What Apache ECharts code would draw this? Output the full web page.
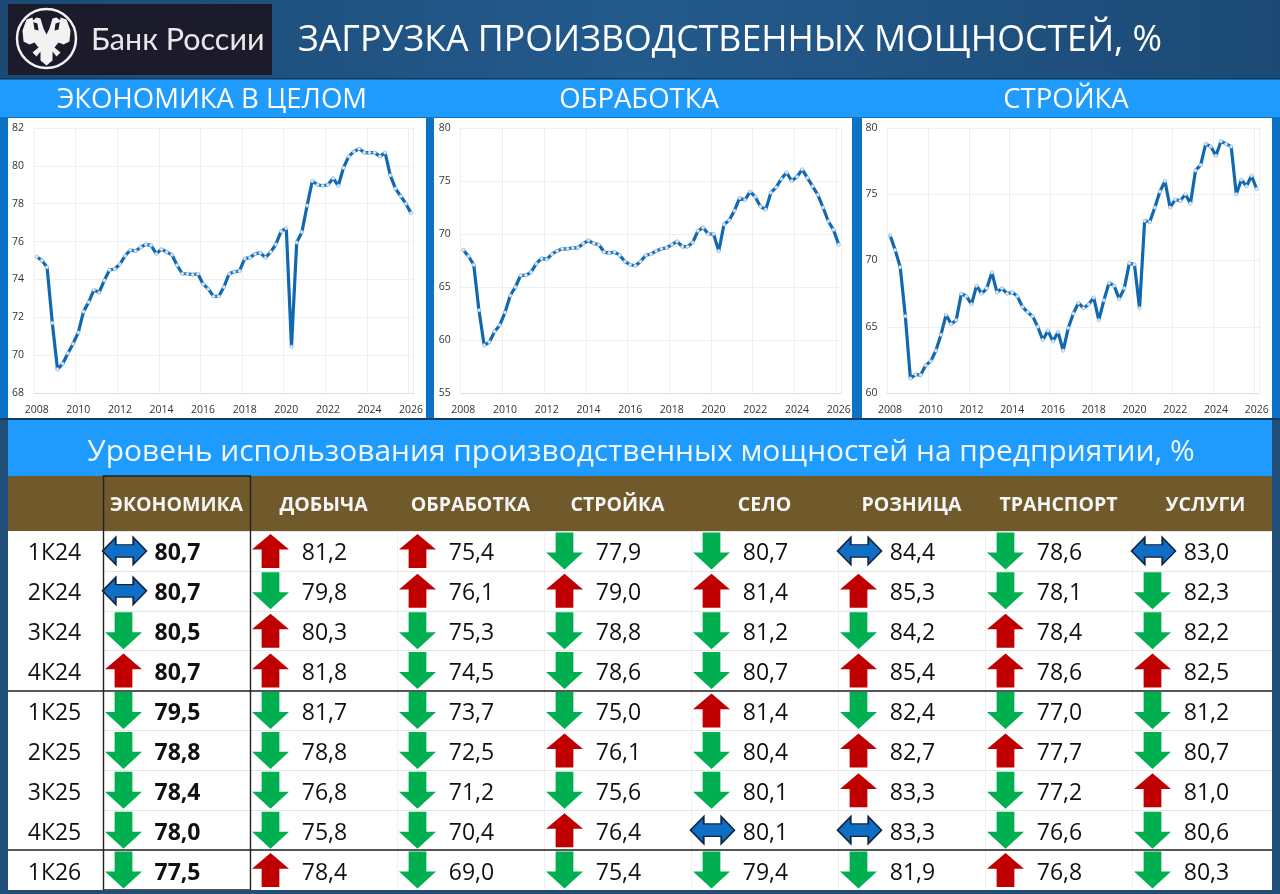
<!DOCTYPE html>
<html><head><meta charset="utf-8">
<style>html,body{margin:0;padding:0;background:#1f4e79}#c{width:1280px;height:894px}</style>
<script src="https://cdn.jsdelivr.net/npm/echarts@6/dist/echarts.min.js"></script></head>
<body><div id="c"></div>
<script>
const yearTicks=[];
for(let y=2008;y<=2026;y++){for(let q=0;q<4;q++){if(y<2026||q===0)yearTicks.push(String(y));}}
const economyLine=[75.2,75.0,74.65,71.7,69.25,69.55,70.1,70.6,71.2,72.3,72.8,73.45,73.3,73.95,74.5,74.55,74.8,75.25,75.55,75.5,75.7,75.85,75.8,75.35,75.6,75.45,75.3,74.75,74.3,74.3,74.25,74.3,73.75,73.5,73.1,73.1,73.6,74.3,74.4,74.45,75.1,75.15,75.35,75.4,75.15,75.45,75.85,76.55,76.7,70.45,75.95,76.5,77.9,79.2,79.0,78.95,79.0,79.35,78.95,79.9,80.5,80.75,80.9,80.7,80.7,80.7,80.5,80.7,79.5,78.8,78.4,78.0,77.5];
const manufacturingLine=[68.5,67.9,67.1,62.8,59.5,59.8,60.8,61.4,62.6,64.2,65.0,66.1,66.1,66.4,67.2,67.7,67.6,68.1,68.4,68.6,68.6,68.7,68.7,69.1,69.4,69.1,69.0,68.3,68.2,68.3,68.0,67.4,67.1,67.0,67.4,68.0,68.1,68.4,68.6,68.7,69.0,69.3,68.8,68.8,69.2,70.3,70.6,70.0,70.0,68.4,70.9,71.3,72.2,73.4,73.2,74.0,73.5,72.6,72.3,73.9,74.4,75.2,75.8,75.0,75.4,76.1,75.3,74.5,73.7,72.5,71.2,70.4,69.0];
const constructionLine=[71.9,70.8,69.5,65.8,61.1,61.4,61.35,62.1,62.4,63.2,64.4,65.9,65.2,65.5,67.5,67.3,66.7,68.1,67.5,67.9,69.1,67.6,67.9,67.5,67.6,67.3,66.5,66.1,65.8,65.0,64.0,64.7,63.9,64.6,63.2,64.9,66.0,66.8,66.4,66.7,67.2,65.5,67.0,68.3,68.1,67.1,67.9,69.8,69.7,66.4,73.0,72.9,74.0,75.2,76.0,74.0,74.6,74.5,75.0,74.3,76.8,77.2,78.8,78.6,77.9,79.0,78.8,78.6,75.0,76.1,75.6,76.4,75.4];

const quarters=['1К24','2К24','3К24','4К24','1К25','2К25','3К25','4К25','1К26'];
const sectors=['ЭКОНОМИКА','ДОБЫЧА','ОБРАБОТКА','СТРОЙКА','СЕЛО','РОЗНИЦА','ТРАНСПОРТ','УСЛУГИ'];
const tableValues=[
 [80.7,80.7,80.5,80.7,79.5,78.8,78.4,78.0,77.5],
 [81.2,79.8,80.3,81.8,81.7,78.8,76.8,75.8,78.4],
 [75.4,76.1,75.3,74.5,73.7,72.5,71.2,70.4,69.0],
 [77.9,79.0,78.8,78.6,75.0,76.1,75.6,76.4,75.4],
 [80.7,81.4,81.2,80.7,81.4,80.4,80.1,80.1,79.4],
 [84.4,85.3,84.2,85.4,82.4,82.7,83.3,83.3,81.9],
 [78.6,78.1,78.4,78.6,77.0,77.7,77.2,76.6,76.8],
 [83.0,82.3,82.2,82.5,81.2,80.7,81.0,80.6,80.3]];
const tableDirections=['ssduddddd','uduuddddu','uuddddddd','dudddudud','dudduddsd','sududuusd','dduududdu','sddudduDd'.toLowerCase()];

const FONT='"Open Sans","Noto Sans",sans-serif';
const UP='path://M0,46 L50,0 L100,46 L74,46 L74,100 L26,100 L26,46 Z';
const DOWN='path://M26,0 L74,0 L74,54 L100,54 L50,100 L0,54 L26,54 Z';
const BOTH='path://M0,50 L30,0 L30,27 L70,27 L70,0 L100,50 L70,100 L70,73 L30,73 L30,100 Z';
const arrowStyle={
 u:{symbol:UP,symbolSize:[37,34],itemStyle:{color:'#C00000',borderWidth:0,opacity:1}},
 d:{symbol:DOWN,symbolSize:[37,37],itemStyle:{color:'#00B050',borderWidth:0,opacity:1}},
 s:{symbol:BOTH,symbolSize:[44,27],symbolOffset:[-52,0],itemStyle:{color:'#0F6FC6',borderColor:'#10253f',borderWidth:1.5,opacity:1}}
};

function lineSet(idx,left,right,min,max,interval,data){
 return {
  grid:{left,right:1280-right,top:128,bottom:894-393,containLabel:false},
  xAxis:{type:'category',gridIndex:idx,data:yearTicks,boundaryGap:true,
   axisLine:{lineStyle:{color:'#dedede',width:1}},axisTick:{show:false},
   axisLabel:{interval:7,color:'#333',fontSize:10.5,fontFamily:FONT,margin:12,showMaxLabel:true},
   splitLine:{show:true,interval:7,lineStyle:{color:'#efefef',width:1}}},
  yAxis:{type:'value',gridIndex:idx,min,max,interval,
   axisLine:{show:true,lineStyle:{color:'#efefef'}},axisTick:{show:false},
   axisLabel:{color:'#333',fontSize:10.5,fontFamily:FONT,margin:10},
   splitLine:{show:true,lineStyle:{color:'#efefef',width:1}}},
  series:{type:'line',xAxisIndex:idx,yAxisIndex:idx,data,smooth:false,showSymbol:true,showAllSymbol:true,
   symbol:'circle',symbolSize:3.5,lineStyle:{color:'#1068B0',width:3.2},
   itemStyle:{color:'#dce9f6',borderColor:'#8fb8dc',borderWidth:0.6},animation:false,silent:true}
 };
}
const sets=[lineSet(0,34.1,413.7,68,82,2,economyLine),
 lineSet(1,460.7,841.3,55,80,5,manufacturingLine),
 lineSet(2,887.5,1259.2,60,80,5,constructionLine)];

const arrowData=[],valueData=[],quarterData=[];
sectors.forEach((s,c)=>quarters.forEach((q,r)=>{
 const st=arrowStyle[tableDirections[c][r]];
 arrowData.push(Object.assign({value:[s,q]},st));
 valueData.push({value:[s,q],label:{show:true,position:'inside',offset:[1,3],
  formatter:tableValues[c][r].toFixed(1).replace('.',','),
  fontWeight:c===0?'bold':'normal',fontSize:23,fontFamily:FONT,color:'#111'}});
}));
quarters.forEach(q=>quarterData.push({value:[sectors[0],q],label:{show:true,position:'inside',offset:[-122,3],
  formatter:q,fontSize:23,fontFamily:FONT,color:'#111'}}));

function rect(x,y,w,h,fill,z){return {type:'rect',shape:{x,y,width:w,height:h},style:{fill},z:z===undefined?-10:z,silent:true};}
function text(t,x,y,size,color,align,extra){return {type:'text',x,y,z:20,silent:true,style:Object.assign({text:t,fontSize:size,fontFamily:FONT,fill:color,align:align||'center',verticalAlign:'middle'},extra||{})};}
function line(x1,y,x2,c,w){return {type:'line',shape:{x1,y1:y,x2,y2:y},style:{stroke:c,lineWidth:w},z:15,silent:true};}

const half=[[0,-4],[3,-10],[6,-20],[10,-21],[15,-17],[9,-15],[8,-8],[12,-9],[14,-21],[20,-19],[24,-8],[23,3],[17,6],[12,4],[8,9],[14,14],[10,18],[6,13],[6,22],[0,27]];
const cx=46.5,cy=38.5;
const eaglePts=half.map(p=>[cx+p[0],cy+p[1]]).concat(half.slice().reverse().map(p=>[cx-p[0],cy+p[1]]));

const graphic=[
 {type:'rect',shape:{x:0,y:0,width:1280,height:78},z:-10,silent:true,style:{fill:{type:'linear',x:0,y:0,x2:1,y2:0,colorStops:[{offset:0,color:'#1c4a75'},{offset:0.5,color:'#235a8c'},{offset:1,color:'#1c4a75'}]}}},
 rect(8,4,264,71,'#1b1b2b',-5),
 {type:'circle',shape:{cx,cy,r:29.5},style:{fill:'none',stroke:'#f2f2f2',lineWidth:2.5},z:-4,silent:true},
 {type:'polygon',shape:{points:eaglePts},style:{fill:'#f2f2f2'},z:-4,silent:true},
 text('Банк России',91,40,30.5,'#e8e8e8','left',{fontFamily:'Lato,"Open Sans",sans-serif'}),
 text('ЗАГРУЗКА ПРОИЗВОДСТВЕННЫХ МОЩНОСТЕЙ, %',298,41,35.7,'#ffffff','left'),
 rect(0,78,1280,1.5,'#123a5e',-8),
 rect(0,79,1280,40,'#1E9BFD',-9),
 text('ЭКОНОМИКА В ЦЕЛОМ',212,100,27.5,'#ffffff'),
 text('ОБРАБОТКА',639,100,27.5,'#ffffff'),
 text('СТРОЙКА',1066,100,27.5,'#ffffff'),
 rect(0,117,1280,303,'#0B72C5',-9),
 rect(8,118,418,300,'#ffffff',-8),
 rect(434,118,418,300,'#ffffff',-8),
 rect(862,118,410,300,'#ffffff',-8),
 rect(8,420,1272,56,'#1E9BFD',-9),
 rect(0,418,1280,2,'#123a5e',-8),
 text('Уровень использования производственных мощностей на предприятии, %',641,452,29.9,'#f0f8ff'),
 rect(8,476,1264,55,'#705A2B',-8),
 rect(8,531,1264,359,'#ffffff',-8),
 rect(0,420,8,474,'#1f4e79',-7),
 rect(1272,420,8,474,'#1f4e79',16),
 rect(0,890,1280,4,'#1f4e79',16),
 line(8,691,1272,'#222',1.6),
 line(8,850,1272,'#222',1.6),
 {type:'rect',shape:{x:103.5,y:476,width:147,height:414},style:{fill:'none',stroke:'#222',lineWidth:1.4},z:15,silent:true}
];

const tableIdx=3;
const hiddenDot={symbol:'circle',symbolSize:1,itemStyle:{color:'transparent',opacity:1},silent:true,z:6};
const option={
 animation:false,backgroundColor:'#1f4e79',graphic,
 grid:[...sets.map(s=>s.grid),{left:103,top:531,width:1176,height:359,containLabel:false}],
 xAxis:[...sets.map(s=>s.xAxis),{type:'category',gridIndex:tableIdx,position:'top',data:sectors,
  axisLine:{show:false},axisTick:{show:false},
  axisLabel:{interval:0,color:'#f5f5f5',fontSize:19.5,fontWeight:'bold',fontFamily:FONT,margin:16},
  splitLine:{show:true,lineStyle:{color:'#f0f0f0',width:1}}}],
 yAxis:[...sets.map(s=>s.yAxis),{type:'category',gridIndex:tableIdx,inverse:true,data:quarters,
  axisLine:{show:false},axisTick:{show:false},axisLabel:{show:false},
  splitLine:{show:true,lineStyle:{color:'#e6e6e6',width:1}}}],
 series:[...sets.map(s=>s.series),
  {type:'scatter',xAxisIndex:tableIdx,yAxisIndex:tableIdx,data:arrowData,symbolOffset:[-53,0],silent:true,z:5},
  Object.assign({type:'scatter',xAxisIndex:tableIdx,yAxisIndex:tableIdx,data:valueData},hiddenDot),
  Object.assign({type:'scatter',xAxisIndex:tableIdx,yAxisIndex:tableIdx,data:quarterData},hiddenDot)]
};
const chart=echarts.init(document.getElementById('c'),null,{renderer:'canvas',width:1280,height:894});
chart.setOption(option);
</script></body></html>
